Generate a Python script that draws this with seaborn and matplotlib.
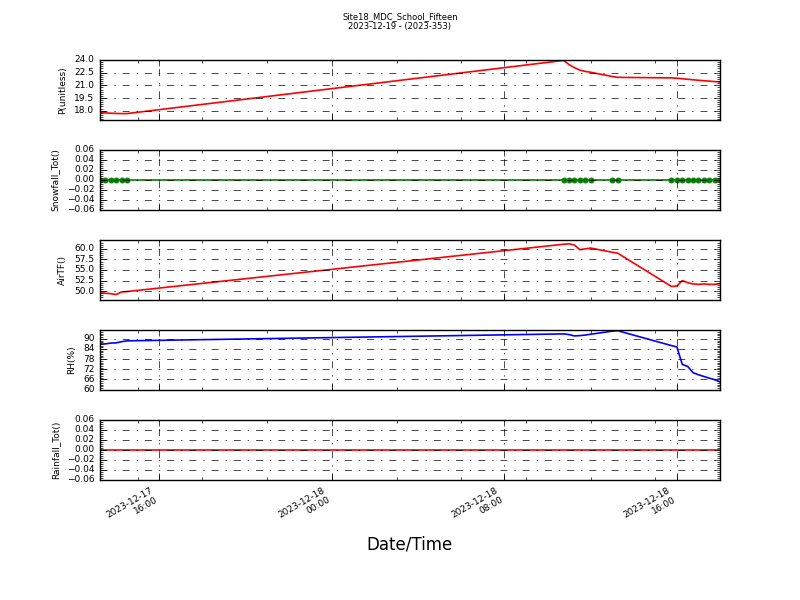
import pandas as pd
import matplotlib
matplotlib.use('Agg')
import matplotlib.pyplot as plt
import matplotlib.dates as mdates
from matplotlib.ticker import MultipleLocator, AutoMinorLocator
import seaborn as sns

# Observation times (15 min records, with gaps in the logger data)
times = (
    ['2023-12-17 13:15', '2023-12-17 13:30', '2023-12-17 13:45',
     '2023-12-17 14:00', '2023-12-17 14:15', '2023-12-17 14:30']
    + ['2023-12-18 10:45', '2023-12-18 11:00', '2023-12-18 11:15',
       '2023-12-18 11:30', '2023-12-18 11:45', '2023-12-18 12:00']
    + ['2023-12-18 13:00', '2023-12-18 13:15']
    + ['2023-12-18 15:45', '2023-12-18 16:00', '2023-12-18 16:15',
       '2023-12-18 16:30', '2023-12-18 16:45', '2023-12-18 17:00',
       '2023-12-18 17:15', '2023-12-18 17:30', '2023-12-18 17:45',
       '2023-12-18 18:00']
)

pressure = [17.78, 17.74, 17.70, 17.68, 17.66, 17.66,
            23.95, 23.45, 23.10, 22.80, 22.65, 22.55,
            22.05, 21.95,
            21.88, 21.85, 21.78, 21.72, 21.66, 21.60, 21.55, 21.50, 21.45, 21.40]

snowfall = [0.0] * 24

air_temp = [49.6, 49.5, 49.4, 49.2, 49.8, 49.9,
            61.1, 61.2, 60.9, 59.8, 60.0, 60.2,
            59.2, 59.0,
            51.1, 51.2, 52.5, 52.0, 51.7, 51.6, 51.7, 51.6, 51.6, 51.8]

rel_hum = [86.9, 87.0, 87.5, 87.6, 88.3, 88.8,
           92.9, 92.5, 91.7, 91.9, 92.2, 92.7,
           94.5, 94.8,
           86.0, 85.2, 74.9, 73.7, 70.0, 68.8, 67.8, 66.8, 65.9, 64.6]

rainfall = [0.0] * 24

df = pd.DataFrame({
    'DateTime': pd.to_datetime(times),
    'P': pressure,
    'Snowfall': snowfall,
    'AirTF': air_temp,
    'RH': rel_hum,
    'Rainfall': rainfall,
})

plt.style.use('classic')
plt.rcParams['font.size'] = 6

fig, axes = plt.subplots(5, 1, figsize=(8, 6), dpi=100, sharex=True)
fig.patch.set_facecolor('white')
fig.subplots_adjust(left=0.125, right=0.9, top=0.9, bottom=0.2, hspace=0.5)

# (column, ylabel, colour, ylim, major step, minor divisions)
panels = [
    ('P', 'P(unitless)', 'r', (16.9, 24.0), 1.5, 6),
    ('Snowfall', 'Snowfall_Tot()', 'g', (-0.06, 0.06), 0.02, 5),
    ('AirTF', 'AirTF()', 'r', (47.9, 62.1), 2.5, 5),
    ('RH', 'RH(%)', 'b', (59.8, 95.2), 6, 6),
    ('Rainfall', 'Rainfall_Tot()', 'r', (-0.06, 0.06), 0.02, 5),
]

for ax, (col, label, color, ylim, step, minor) in zip(axes, panels):
    if col == 'Snowfall':
        sns.lineplot(data=df, x='DateTime', y=col, ax=ax, color=color,
                     marker='o', markersize=3.5, markeredgecolor=color, linewidth=1.2)
    else:
        sns.lineplot(data=df, x='DateTime', y=col, ax=ax, color=color, linewidth=1.2)
    ax.set_ylim(*ylim)
    ax.yaxis.set_major_locator(MultipleLocator(step))
    ax.yaxis.set_minor_locator(AutoMinorLocator(minor))
    ax.set_ylabel(label, fontsize=6.5)
    ax.set_xlabel('')
    ax.grid(True, which='major', color='k', linestyle=(0, (5, 5, 1, 5)), linewidth=0.5)
    ax.tick_params(axis='both', which='major', labelsize=6.5, direction='in', length=4)
    ax.tick_params(axis='both', which='minor', direction='in', length=2)

axes[-1].set_xlim(pd.Timestamp('2023-12-17 13:15'), pd.Timestamp('2023-12-18 18:00'))
axes[-1].xaxis.set_major_locator(mdates.HourLocator(byhour=[0, 8, 16]))
axes[-1].xaxis.set_minor_locator(mdates.HourLocator(byhour=range(0, 24, 3)))
axes[-1].xaxis.set_major_formatter(mdates.DateFormatter('%Y-%m-%d\n%H:%M'))
for ax in axes[:-1]:
    plt.setp(ax.get_xticklabels(), visible=False)
plt.setp(axes[-1].get_xticklabels(), rotation=30, ha='right', fontsize=6.5)

fig.suptitle('Site18_MDC_School_Fifteen\n2023-12-19 - (2023-353)', fontsize=6, y=0.98)
fig.text(0.5125, 0.093, 'Date/Time', ha='center', va='center', fontsize=12)

fig.savefig('out.png', dpi=100, facecolor='white')
